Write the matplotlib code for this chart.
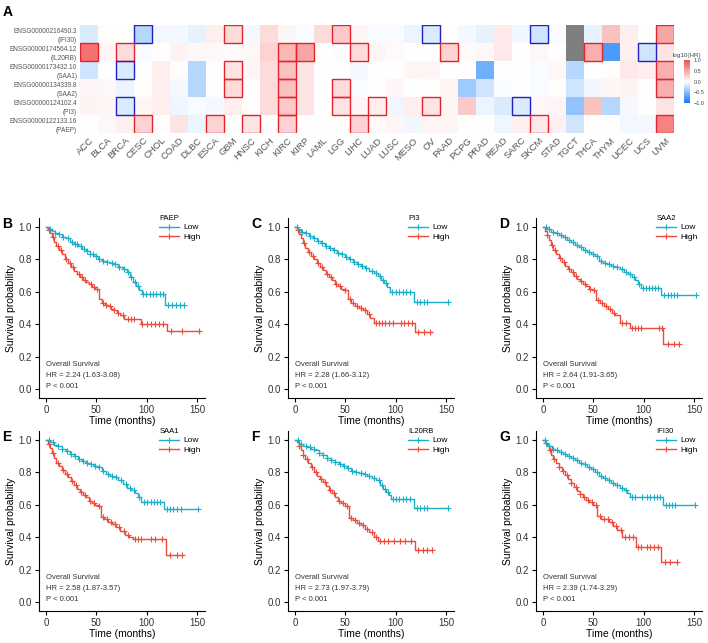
import numpy as np
import matplotlib
matplotlib.use("Agg")
import matplotlib.pyplot as plt
from matplotlib.colors import LinearSegmentedColormap
from matplotlib.patches import Rectangle
from matplotlib.lines import Line2D

plt.rcParams['font.family'] = ['Liberation Sans', 'DejaVu Sans']

# ---------------- heatmap data (log10 HR) ----------------
cancers = ['ACC', 'BLCA', 'BRCA', 'CESC', 'CHOL', 'COAD', 'DLBC', 'ESCA', 'GBM', 'HNSC', 'KICH',
           'KIRC', 'KIRP', 'LAML', 'LGG', 'LIHC', 'LUAD', 'LUSC', 'MESO', 'OV', 'PAAD', 'PCPG',
           'PRAD', 'READ', 'SARC', 'SKCM', 'STAD', 'TGCT', 'THCA', 'THYM', 'UCEC', 'UCS', 'UVM']
row_labels = ['ENSG00000216490.3\n(IFI30)', 'ENSG00000174564.12\n(IL20RB)', 'ENSG00000173432.10\n(SAA1)',
              'ENSG00000134339.8\n(SAA2)', 'ENSG00000124102.4\n(PI3)', 'ENSG00000122133.16\n(PAEP)']
nan = np.nan
hr_ifi30 = [-0.15, 0.02, 0.02, -0.3, -0.05, -0.04, -0.1, 0.1, 0.2, -0.04, 0.2, 0.05, -0.02, 0.2, 0.3, 0.05,
            -0.03, -0.03, -0.08, -0.15, 0.02, -0.04, -0.1, 0.12, -0.06, -0.2, -0.03, nan, -0.1, 0.35, 0.1, 0.0, 0.5]
hr_il20rb = [0.8, 0.05, 0.2, -0.03, 0.01, 0.07, 0.04, 0.04, 0.03, 0.04, 0.25, 0.4, 0.5, 0.0, -0.02, 0.2,
             0.06, 0.03, 0.0, 0.0, 0.25, 0.03, 0.04, 0.12, 0.0, 0.04, 0.01, nan, 0.45, -0.75, 0.08, -0.2, 0.15]
hr_saa1 = [-0.2, 0.0, -0.15, 0.0, 0.1, 0.02, -0.3, 0.0, 0.15, 0.05, 0.2, 0.35, 0.15, 0.0, 0.0, -0.04,
           0.0, 0.01, 0.06, 0.05, 0.0, 0.01, -0.6, 0.0, 0.0, -0.03, 0.04, -0.3, 0.0, 0.02, 0.12, 0.1, 0.45]
hr_saa2 = [0.05, 0.04, -0.08, 0.02, 0.1, -0.04, -0.3, 0.02, 0.2, 0.02, 0.2, 0.35, 0.15, 0.0, 0.2, -0.03,
           0.0, 0.05, 0.0, 0.02, 0.06, -0.4, -0.2, -0.03, 0.0, -0.03, 0.02, -0.2, -0.06, 0.06, 0.07, 0.0, 0.45]
hr_pi3 = [0.07, 0.05, -0.15, 0.06, 0.1, -0.07, -0.03, -0.04, 0.1, 0.02, 0.2, 0.3, 0.15, 0.0, 0.15, 0.05,
          0.1, -0.07, 0.1, 0.15, 0.06, 0.3, -0.08, -0.15, -0.15, 0.04, 0.05, -0.45, 0.35, -0.3, -0.04, 0.0, 0.15]
hr_paep = [0.0, 0.04, 0.08, 0.25, 0.02, 0.15, -0.08, 0.25, 0.0, 0.15, 0.0, 0.25, 0.0, 0.0, 0.0, 0.25,
           0.03, 0.06, -0.06, 0.05, 0.06, 0.0, 0.0, -0.07, 0.08, 0.12, 0.08, -0.2, 0.0, 0.0, -0.05, -0.04, 0.7]
sig_ifi30 = ['CESC', 'GBM', 'LGG', 'OV', 'SKCM', 'UVM']
sig_il20rb = ['ACC', 'BRCA', 'KIRC', 'KIRP', 'LIHC', 'PAAD', 'THCA', 'UCS']
sig_saa1 = ['BRCA', 'GBM', 'KIRC', 'UVM']
sig_saa2 = ['GBM', 'KIRC', 'LGG', 'UVM']
sig_pi3 = ['BRCA', 'KIRC', 'LGG', 'LUAD', 'OV', 'SARC']
sig_paep = ['CESC', 'ESCA', 'HNSC', 'KIRC', 'LIHC', 'SKCM', 'UVM']

# ---------------- survival curves (time in months, survival) ----------------
genes = ['PAEP', 'PI3', 'SAA2', 'SAA1', 'IL20RB', 'IFI30']
letters = ['B', 'C', 'D', 'E', 'F', 'G']
hr_text = ['HR = 2.24 (1.63-3.08)', 'HR = 2.28 (1.66-3.12)', 'HR = 2.64 (1.91-3.65)',
           'HR = 2.58 (1.87-3.57)', 'HR = 2.73 (1.97-3.79)', 'HR = 2.39 (1.74-3.29)']

low_t = [
    [0, 3, 6, 9, 12, 16, 20, 24, 28, 32, 36, 40, 44, 48, 52, 56, 60, 64, 68, 72, 76, 80, 83, 86, 89, 92, 95, 118, 137],
    [0, 3, 6, 10, 14, 18, 22, 26, 30, 34, 38, 42, 46, 50, 54, 58, 62, 66, 70, 74, 78, 82, 85, 88, 91, 94, 118, 152],
    [0, 4, 8, 12, 16, 20, 24, 28, 32, 36, 40, 44, 48, 52, 56, 60, 64, 68, 72, 76, 80, 84, 88, 91, 94, 97, 117, 152],
    [0, 4, 8, 12, 16, 20, 24, 28, 32, 36, 40, 44, 48, 52, 56, 60, 64, 68, 72, 76, 80, 84, 88, 91, 94, 117, 151],
    [0, 4, 8, 12, 16, 20, 24, 28, 32, 36, 40, 44, 48, 52, 56, 60, 64, 68, 72, 76, 80, 84, 87, 90, 93, 95, 118, 152],
    [0, 3, 6, 9, 12, 16, 20, 24, 28, 32, 36, 40, 44, 48, 52, 56, 60, 64, 68, 72, 76, 80, 83, 86, 119, 151],
]
low_s = [
    [1.0, 0.99, 0.975, 0.965, 0.955, 0.94, 0.93, 0.91, 0.895, 0.88, 0.865, 0.85, 0.835, 0.82, 0.80, 0.79, 0.785,
     0.78, 0.77, 0.755, 0.74, 0.72, 0.69, 0.66, 0.635, 0.61, 0.585, 0.52, 0.52],
    [1.0, 0.985, 0.97, 0.96, 0.945, 0.93, 0.915, 0.9, 0.885, 0.87, 0.855, 0.84, 0.83, 0.815, 0.8, 0.785, 0.77,
     0.76, 0.745, 0.73, 0.715, 0.70, 0.675, 0.655, 0.63, 0.60, 0.54, 0.54],
    [1.0, 0.985, 0.97, 0.96, 0.95, 0.935, 0.92, 0.905, 0.89, 0.875, 0.86, 0.845, 0.83, 0.82, 0.79, 0.78, 0.77,
     0.76, 0.75, 0.74, 0.725, 0.71, 0.69, 0.67, 0.645, 0.625, 0.58, 0.58],
    [1.0, 0.985, 0.97, 0.96, 0.945, 0.93, 0.915, 0.9, 0.885, 0.87, 0.86, 0.85, 0.84, 0.83, 0.81, 0.79, 0.78,
     0.77, 0.75, 0.73, 0.705, 0.69, 0.675, 0.65, 0.62, 0.575, 0.575],
    [1.0, 0.975, 0.965, 0.955, 0.945, 0.935, 0.92, 0.905, 0.89, 0.875, 0.865, 0.85, 0.84, 0.825, 0.81, 0.80,
     0.795, 0.79, 0.78, 0.765, 0.75, 0.72, 0.70, 0.68, 0.66, 0.635, 0.58, 0.58],
    [1.0, 0.975, 0.96, 0.945, 0.935, 0.925, 0.915, 0.9, 0.89, 0.875, 0.86, 0.85, 0.835, 0.82, 0.80, 0.78, 0.765,
     0.75, 0.735, 0.72, 0.705, 0.69, 0.67, 0.65, 0.60, 0.60],
]
high_t = [
    [0, 2, 4, 6, 8, 10, 13, 16, 19, 22, 25, 28, 31, 34, 37, 40, 43, 46, 49, 53, 56, 59, 62, 65, 68, 71, 74, 77, 94, 120, 153],
    [0, 2, 4, 6, 8, 10, 13, 16, 19, 22, 25, 28, 31, 34, 37, 40, 43, 46, 49, 53, 56, 60, 64, 68, 72, 75, 78, 119, 136],
    [0, 2, 4, 6, 8, 10, 13, 16, 19, 22, 25, 28, 31, 34, 37, 40, 43, 46, 49, 53, 57, 61, 65, 69, 72, 76, 86, 119, 135],
    [0, 2, 4, 6, 8, 10, 13, 16, 19, 22, 25, 28, 31, 34, 37, 40, 43, 46, 49, 52, 55, 58, 62, 66, 70, 74, 78, 82, 86, 119, 135],
    [0, 2, 4, 6, 8, 10, 13, 16, 19, 22, 25, 28, 31, 34, 37, 40, 43, 46, 50, 54, 58, 62, 66, 70, 74, 78, 82, 119, 136],
    [0, 2, 4, 6, 8, 10, 13, 16, 19, 22, 25, 28, 31, 34, 37, 40, 43, 46, 50, 54, 58, 62, 66, 70, 74, 78, 92, 117, 133],
]
high_s = [
    [1.0, 0.98, 0.96, 0.935, 0.91, 0.885, 0.86, 0.83, 0.80, 0.78, 0.755, 0.73, 0.71, 0.69, 0.675, 0.66, 0.645,
     0.63, 0.62, 0.555, 0.53, 0.52, 0.51, 0.495, 0.485, 0.47, 0.455, 0.43, 0.40, 0.36, 0.36],
    [1.0, 0.98, 0.955, 0.93, 0.9, 0.87, 0.845, 0.82, 0.80, 0.775, 0.755, 0.735, 0.71, 0.69, 0.67, 0.65, 0.635,
     0.62, 0.61, 0.555, 0.53, 0.515, 0.5, 0.485, 0.46, 0.44, 0.405, 0.35, 0.35],
    [1.0, 0.975, 0.95, 0.92, 0.89, 0.86, 0.835, 0.81, 0.785, 0.76, 0.74, 0.72, 0.70, 0.68, 0.665, 0.65, 0.635,
     0.62, 0.61, 0.55, 0.53, 0.515, 0.495, 0.47, 0.455, 0.405, 0.375, 0.28, 0.28],
    [1.0, 0.975, 0.95, 0.92, 0.89, 0.86, 0.84, 0.815, 0.79, 0.77, 0.745, 0.72, 0.70, 0.68, 0.66, 0.645, 0.625,
     0.61, 0.60, 0.59, 0.525, 0.51, 0.495, 0.48, 0.465, 0.44, 0.415, 0.40, 0.39, 0.29, 0.29],
    [1.0, 0.985, 0.965, 0.94, 0.91, 0.88, 0.855, 0.83, 0.80, 0.78, 0.76, 0.74, 0.715, 0.69, 0.67, 0.645, 0.625,
     0.61, 0.595, 0.52, 0.505, 0.49, 0.475, 0.45, 0.43, 0.40, 0.375, 0.32, 0.32],
    [1.0, 0.98, 0.96, 0.935, 0.91, 0.885, 0.86, 0.835, 0.81, 0.785, 0.76, 0.735, 0.71, 0.685, 0.665, 0.645, 0.63,
     0.615, 0.60, 0.53, 0.515, 0.51, 0.495, 0.47, 0.445, 0.40, 0.34, 0.25, 0.25],
]
low_cens = [
    [4, 9, 13, 17, 22, 26, 29, 31, 35, 38, 41, 44, 47, 50, 53, 57, 61, 66, 69, 73, 77, 81, 84, 88, 91, 96, 99,
     103, 106, 109, 113, 116, 121, 125, 129, 133, 137],
    [2, 7, 11, 15, 19, 23, 27, 31, 35, 39, 43, 47, 51, 55, 59, 63, 67, 71, 76, 80, 84, 87, 90, 96, 100, 103,
     107, 110, 114, 121, 124, 128, 131, 152],
    [3, 6, 10, 14, 18, 22, 26, 30, 34, 38, 42, 46, 50, 54, 58, 62, 66, 70, 74, 78, 82, 86, 90, 95, 99, 102,
     105, 108, 111, 114, 120, 124, 127, 130, 133, 152],
    [3, 7, 12, 16, 21, 25, 29, 33, 37, 41, 45, 49, 53, 57, 62, 66, 70, 75, 79, 83, 87, 92, 97, 100, 104,
     107, 110, 113, 120, 123, 126, 130, 134, 151],
    [3, 6, 11, 15, 19, 24, 28, 32, 36, 40, 45, 49, 53, 57, 61, 66, 70, 74, 78, 83, 86, 89, 92, 97, 100, 103,
     107, 110, 114, 121, 124, 128, 131, 152],
    [2, 6, 10, 14, 18, 22, 26, 30, 34, 38, 42, 46, 50, 54, 58, 62, 66, 70, 74, 78, 82, 88, 91, 98, 103, 106,
     110, 113, 116, 122, 125, 128, 131, 151],
]
high_cens = [
    [3, 7, 12, 15, 20, 24, 27, 33, 36, 39, 45, 48, 51, 57, 60, 64, 68, 72, 76, 81, 84, 87, 95, 100, 104,
     108, 112, 116, 124, 135, 152],
    [3, 9, 14, 18, 23, 27, 32, 36, 41, 45, 50, 55, 58, 62, 66, 70, 74, 80, 83, 86, 89, 93, 97, 105, 108, 112,
     116, 122, 128, 134],
    [4, 9, 12, 17, 21, 26, 30, 33, 38, 42, 47, 51, 55, 59, 63, 67, 71, 78, 82, 88, 91, 94, 97, 115, 118,
     124, 130, 135],
    [3, 7, 12, 17, 21, 26, 30, 35, 39, 44, 48, 53, 57, 61, 65, 69, 73, 77, 81, 88, 91, 94, 104, 108, 115,
     123, 130, 135],
    [4, 8, 12, 17, 21, 26, 30, 35, 39, 44, 48, 52, 56, 60, 64, 68, 72, 76, 80, 84, 88, 92, 98, 104, 109,
     115, 122, 127, 131, 136],
    [3, 7, 11, 16, 20, 24, 28, 33, 37, 41, 45, 49, 53, 57, 61, 65, 69, 73, 77, 81, 85, 89, 94, 97, 103, 106,
     110, 114, 121, 126, 133],
]

low_color = '#1DAFC9'
high_color = '#EE4B3A'

fig = plt.figure(figsize=(7.08, 6.43), dpi=100)
W, H = 708.0, 643.0

# ---------------- panel A heatmap ----------------
hr = np.array([hr_ifi30, hr_il20rb, hr_saa1, hr_saa2, hr_pi3, hr_paep])
sigs = [sig_ifi30, sig_il20rb, sig_saa1, sig_saa2, sig_pi3, sig_paep]
cmap = LinearSegmentedColormap.from_list('hr', ['#0E7BFA', '#FFFFFF', '#F24D4D'])
cmap.set_bad('#7F7F7F')

axh = fig.add_axes([80 / W, 1 - 133 / H, 594 / W, 108 / H])
mesh = axh.pcolormesh(np.ma.masked_invalid(hr), cmap=cmap, vmin=-1, vmax=1)
axh.set_xlim(0, len(cancers))
axh.set_ylim(len(row_labels), 0)
for r, sl in enumerate(sigs):
    for c in sl:
        j = cancers.index(c)
        ec = '#E3242B' if hr[r, j] > 0 else '#2222C0'
        axh.add_patch(Rectangle((j, r), 1, 1, fill=False, ec=ec, lw=1.0))
axh.set_xticks(np.arange(len(cancers)) + 0.5)
axh.set_xticklabels(cancers, rotation=45, ha='right', rotation_mode='anchor', fontsize=6.8, color='#555555')
axh.set_yticks(np.arange(len(row_labels)) + 0.5)
axh.set_yticklabels(row_labels, fontsize=4.7, color='#555555', linespacing=1.35)
axh.tick_params(length=0, pad=2)
for s in axh.spines.values():
    s.set_visible(False)

axc = fig.add_axes([684 / W, 1 - 103 / H, 6 / W, 43 / H])
cb = fig.colorbar(mesh, cax=axc)
cb.outline.set_visible(False)
cb.set_ticks([1.0, 0.5, 0.0, -0.5, -1.0])
cb.ax.tick_params(labelsize=4, length=1.5, width=0.4, color='white', pad=1, labelcolor='#444444')
axc.set_title('log10(HR)', fontsize=4.5, color='#444444', pad=2)

fig.text(3 / W, 1 - 16 / H, 'A', fontsize=10, fontweight='bold')

# ---------------- panels B-G survival ----------------
lefts = [39, 288, 536, 39, 288, 536]
bottoms = [398, 398, 398, 611, 611, 611]
for i in range(6):
    ax = fig.add_axes([lefts[i] / W, 1 - bottoms[i] / H, 166 / W, 180 / H])
    for t, s, cens, col in [(high_t[i], high_s[i], high_cens[i], high_color),
                            (low_t[i], low_s[i], low_cens[i], low_color)]:
        t = np.array(t, float)
        s = np.array(s, float)
        ax.step(t, s, where='post', color=col, lw=1.0)
        cens = np.array(cens, float)
        idx = np.clip(np.searchsorted(t, cens, side='right') - 1, 0, len(s) - 1)
        ax.plot(cens, s[idx], ls='none', marker='+', ms=4, mew=0.8, color=col)
    ax.set_xlim(-7, 158)
    ax.set_ylim(-0.055, 1.055)
    ax.set_xticks([0, 50, 100, 150])
    ax.set_yticks([0.0, 0.2, 0.4, 0.6, 0.8, 1.0])
    ax.set_yticklabels(['0.0', '0.2', '0.4', '0.6', '0.8', '1.0'])
    for side in ['top', 'right']:
        ax.spines[side].set_visible(False)
    for side in ['left', 'bottom']:
        ax.spines[side].set_linewidth(0.8)
    ax.tick_params(labelsize=7, length=3, width=0.8, labelcolor='#333333', pad=2)
    ax.set_xlabel('Time (months)', fontsize=7.5, labelpad=1)
    ax.set_ylabel('Survival probability', fontsize=7.5, labelpad=2)
    ax.text(0, 0.15, 'Overall Survival', fontsize=5.5, color='#333333', va='center')
    ax.text(0, 0.083, hr_text[i], fontsize=5.5, color='#333333', va='center')
    ax.text(0, 0.016, 'P < 0.001', fontsize=5.5, color='#333333', va='center')
    handles = [Line2D([], [], color=low_color, lw=1.0, marker='+', ms=4, mew=0.8),
               Line2D([], [], color=high_color, lw=1.0, marker='+', ms=4, mew=0.8)]
    ax.legend(handles, ['Low', 'High'], title=genes[i], loc='upper right', bbox_to_anchor=(1.0, 1.04),
              frameon=False, fontsize=6, title_fontsize=5.5, alignment='left', handlelength=2.4,
              labelspacing=0.2, borderpad=0, handletextpad=0.5)
    fig.text((lefts[i] - 37) / W, 1 - (bottoms[i] - 170) / H, letters[i], fontsize=10, fontweight='bold')

fig.savefig('out.png', dpi=100)
